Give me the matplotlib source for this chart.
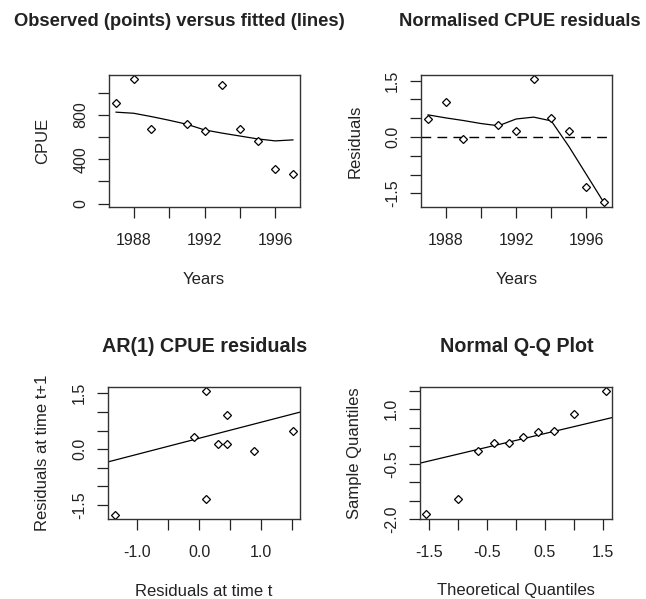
import numpy as np
import matplotlib.pyplot as plt

plt.rcParams['font.family'] = ['Liberation Sans', 'DejaVu Sans']

# observed / fitted CPUE
obs_years = [1987, 1988, 1989, 1991, 1992, 1993, 1994, 1995, 1996, 1997]
cpue_obs = [911, 1124, 677, 722, 654, 1073, 674, 569, 315, 267]
fit_years = [1987, 1988, 1989, 1990, 1991, 1992, 1993, 1994, 1995, 1996, 1997]
cpue_fit = [825, 815, 785, 752, 716, 665, 636, 610, 584, 566, 575]

# normalised residuals
resid = [0.48, 0.92, -0.05, 0.33, 0.16, 1.55, 0.50, 0.16, -1.33, -1.73]
resid_fit = [0.59, 0.51, 0.44, 0.36, 0.30, 0.48, 0.53, 0.43, -0.25, -1.0, -1.75]

# AR(1) residuals
ar_x = [0.45, 0.89, -0.08, 0.30, 0.12, 1.52, 0.46, 0.12, -1.36]
ar_y = [0.93, -0.05, 0.32, 0.15, 1.55, 0.50, 0.15, -1.34, -1.76]
ar_icpt, ar_slope = 0.29, 0.43

# normal Q-Q
qq_theo = [-1.55, -1.0, -0.66, -0.38, -0.12, 0.12, 0.38, 0.66, 1.0, 1.55]
qq_samp = [-1.86, -1.45, -0.14, 0.07, 0.07, 0.25, 0.38, 0.42, 0.86, 1.50]
qq_icpt, qq_slope = 0.15, 0.375

W, H = 646, 599
fig = plt.figure(figsize=(W / 100, H / 100), dpi=100)


def box(l, t, r, b):
    return fig.add_axes([l / W, 1 - b / H, (r - l) / W, (b - t) / H])


def style(ax, xt, xl, yt, yl):
    ax.set_xticks(xt)
    ax.set_xticklabels(xl)
    ax.set_yticks(yt)
    ax.set_yticklabels(yl, rotation=90, va='center')
    ax.tick_params(direction='out', length=8, width=0.9, color='#222222',
                   labelsize=11.5, labelcolor='#222222')
    ax.tick_params(axis='x', pad=11)
    ax.tick_params(axis='y', pad=7)
    for s in ax.spines.values():
        s.set_linewidth(1.0)
        s.set_color('#333333')


def ftext(x, y, s, **kw):
    fig.text(x / W, 1 - y / H, s, ha='center', va='center', color='#222222', **kw)


mk = dict(marker='D', ms=4.2, mfc='white', mec='black', mew=0.9, ls='none')
lw = 0.9

# panel 1
ax1 = box(109, 75, 300, 207)
ax1.plot(fit_years, cpue_fit, color='black', lw=lw)
ax1.plot(obs_years, cpue_obs, **mk)
ax1.set_xlim(1986.6, 1997.4)
ax1.set_ylim(-30, 1160)
style(ax1, [1988, 1990, 1992, 1994, 1996], ['1988', '', '1992', '', '1996'],
      [0, 200, 400, 600, 800, 1000], ['0', '', '400', '', '800', ''])

# panel 2
ax2 = box(421, 75, 612, 207)
ax2.axhline(0, color='black', lw=1.0, ls=(0, (7, 4.5)))
ax2.plot(fit_years, resid_fit, color='black', lw=lw)
ax2.plot(obs_years, resid, **mk)
ax2.set_xlim(1986.6, 1997.45)
ax2.set_ylim(-1.86, 1.65)
style(ax2, [1988, 1990, 1992, 1994, 1996], ['1988', '', '1992', '', '1996'],
      [-1.5, -1.0, -0.5, 0, 0.5, 1.0, 1.5], ['-1.5', '', '', '0.0', '', '', '1.5'])

# panel 3
ax3 = box(108, 387, 300, 519)
xl3 = (-1.475, 1.637)
ax3.plot(xl3, [ar_icpt + ar_slope * v for v in xl3], color='black', lw=lw)
ax3.plot(ar_x, ar_y, **mk)
ax3.set_xlim(*xl3)
ax3.set_ylim(-1.88, 1.67)
style(ax3, [-1.0, -0.5, 0, 0.5, 1.0, 1.5], ['-1.0', '', '0.0', '', '1.0', ''],
      [-1.5, -1.0, -0.5, 0, 0.5, 1.0, 1.5], ['-1.5', '', '', '0.0', '', '', '1.5'])

# panel 4
ax4 = box(420, 387, 612, 519)
xl4 = (-1.66, 1.66)
ax4.plot(xl4, [qq_icpt + qq_slope * v for v in xl4], color='black', lw=lw)
ax4.plot(qq_theo, qq_samp, **mk)
ax4.set_xlim(*xl4)
ax4.set_ylim(-2.0, 1.61)
style(ax4, [-1.5, -1.0, -0.5, 0, 0.5, 1.0, 1.5], ['-1.5', '', '-0.5', '', '0.5', '', '1.5'],
      [-2.0, -1.5, -1.0, -0.5, 0, 0.5, 1.0, 1.5], ['-2.0', '', '', '-0.5', '', '', '1.0', ''])

# titles and axis labels
ftext(179, 21, 'Observed (points) versus fitted (lines)', fontsize=13.2, fontweight='bold')
ftext(520, 21, 'Normalised CPUE residuals', fontsize=13.2, fontweight='bold')
ftext(205, 347, 'AR(1) CPUE residuals', fontsize=14.2, fontweight='bold')
ftext(517, 347, 'Normal Q-Q Plot', fontsize=14.2, fontweight='bold')

ftext(204, 279, 'Years', fontsize=12)
ftext(517, 279, 'Years', fontsize=12)
ftext(204, 591, 'Residuals at time t', fontsize=12)
ftext(516, 591, 'Theoretical Quantiles', fontsize=12)

ftext(43, 141, 'CPUE', fontsize=12, rotation=90)
ftext(355, 141, 'Residuals', fontsize=12, rotation=90)
ftext(43, 453, 'Residuals at time t+1', fontsize=12, rotation=90)
ftext(355, 453, 'Sample Quantiles', fontsize=12, rotation=90)

fig.savefig('out.png', dpi=100)
